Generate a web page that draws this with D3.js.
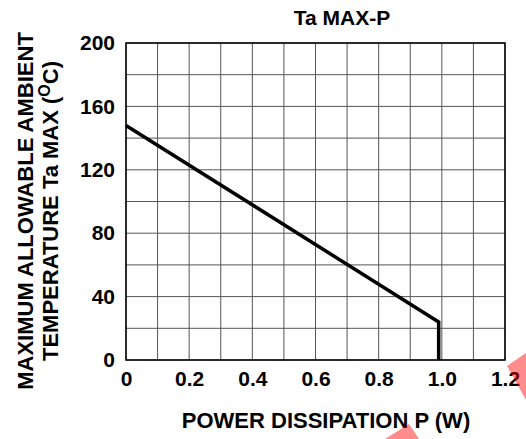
<!DOCTYPE html>
<html>
<head>
<meta charset="utf-8">
<script src="https://cdn.jsdelivr.net/npm/d3@7"></script>
<style>
  body { margin: 0; background: #fff; }
  text { font-family: "Liberation Sans", Arial, sans-serif; font-weight: bold; fill: #000; }
</style>
</head>
<body>
<div id="chart"></div>
<script>
// data
var powerW = [0, 0.99, 0.99];
var taMax = [148, 24, 0];
var xTicks = [0, 0.2, 0.4, 0.6, 0.8, 1.0, 1.2];
var xTickLabels = ["0", "0.2", "0.4", "0.6", "0.8", "1.0", "1.2"];
var yTicks = [0, 40, 80, 120, 160, 200];
var xGrid = d3.range(0, 13).map(function(i){ return i / 10; });
var yGrid = d3.range(0, 11).map(function(i){ return i * 20; });

var W = 526, H = 439;
var margin = { top: 43, right: 21, bottom: 79, left: 126 },
  width = W - margin.left - margin.right,
  height = H - margin.top - margin.bottom;

var svg = d3.select("#chart").append("svg")
  .attr("width", W).attr("height", H);

var g = svg.append("g")
  .attr("transform", "translate(" + margin.left + "," + margin.top + ")");

var x = d3.scaleLinear().domain([0, 1.2]).range([0, width]);
var y = d3.scaleLinear().domain([0, 200]).range([height, 0]);

// grid
g.selectAll(".vgrid").data(xGrid).enter().append("line")
  .attr("x1", function(d){ return x(d); }).attr("x2", function(d){ return x(d); })
  .attr("y1", 0).attr("y2", height)
  .attr("stroke", "#555").attr("stroke-width", 1);
g.selectAll(".hgrid").data(yGrid).enter().append("line")
  .attr("y1", function(d){ return y(d); }).attr("y2", function(d){ return y(d); })
  .attr("x1", 0).attr("x2", width)
  .attr("stroke", "#555").attr("stroke-width", 1);
g.append("rect").attr("width", width).attr("height", height)
  .attr("fill", "none").attr("stroke", "#000").attr("stroke-width", 1.5);

// axes (labels only)
var xAxis = g.append("g").attr("transform", "translate(0," + height + ")")
  .call(d3.axisBottom(x).tickValues(xTicks).tickSize(0).tickPadding(11)
    .tickFormat(function(d, i){ return xTickLabels[i]; }));
var yAxis = g.append("g")
  .call(d3.axisLeft(y).tickValues(yTicks).tickSize(0).tickPadding(11));
[xAxis, yAxis].forEach(function(a){
  a.select(".domain").remove();
  a.selectAll("text").style("font-size", "21px").style("font-family", "Liberation Sans, Arial, sans-serif").style("font-weight", "bold");
});

// curve
var pts = powerW.map(function(p, i){ return [p, taMax[i]]; });
g.append("path").datum(pts)
  .attr("fill", "none").attr("stroke", "#000").attr("stroke-width", 3.5)
  .attr("stroke-linejoin", "miter")
  .attr("d", d3.line().x(function(d){ return x(d[0]); }).y(function(d){ return y(d[1]); }));

// titles
svg.append("text").attr("x", 342).attr("y", 25).attr("text-anchor", "middle")
  .style("font-size", "21px").text("Ta MAX-P");
svg.append("text").attr("x", 326).attr("y", 428).attr("text-anchor", "middle")
  .style("font-size", "22px").text("POWER DISSIPATION P (W)");

var yl = svg.append("g").attr("transform", "translate(0,211) rotate(-90)");
yl.append("text").attr("x", 0).attr("y", 33).attr("text-anchor", "middle")
  .style("font-size", "22px").text("MAXIMUM ALLOWABLE AMBIENT");
var t2 = yl.append("text").attr("x", 0).attr("y", 58).attr("text-anchor", "middle")
  .style("font-size", "22px");
t2.append("tspan").text("TEMPERATURE Ta MAX (");
t2.append("tspan").attr("dy", -8).style("font-size", "16px").text("O");
t2.append("tspan").attr("dy", 8).text("C)");

// red watermark fragments
svg.append("polygon").attr("points", "507,366 526,353 526,400")
  .attr("fill", "rgba(255,0,0,0.45)");
svg.append("polygon").attr("points", "385,439 409,424 419,439")
  .attr("fill", "rgba(255,0,0,0.45)");
</script>
</body>
</html>
